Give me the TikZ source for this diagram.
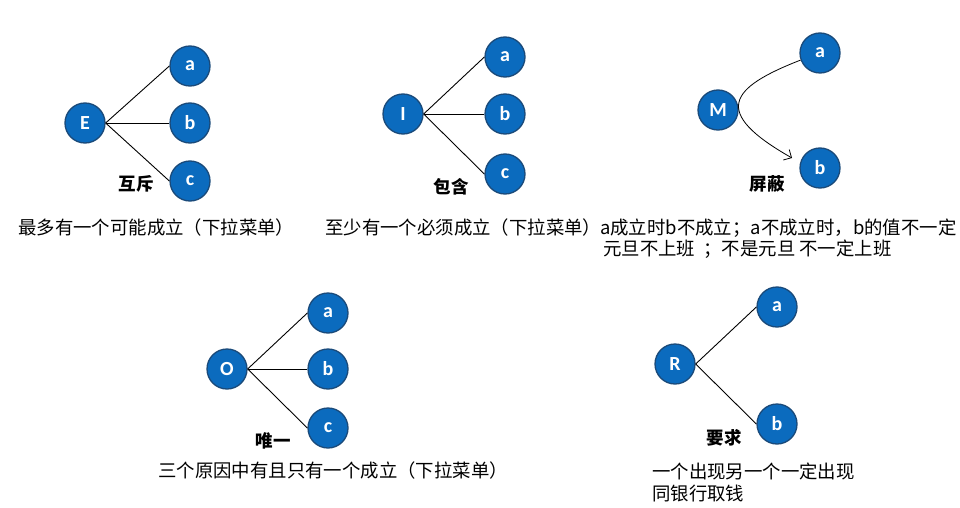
\documentclass[tikz,border=0pt]{standalone}
\usepackage{fontspec}
\setmainfont{Noto Sans CJK SC}
\newfontfamily\circfont{Carlito}
\usetikzlibrary{arrows.meta}
\definecolor{cfill}{HTML}{0B6BBE}
\definecolor{cdraw}{HTML}{1A4A7A}
\tikzset{
  ball/.style={circle, fill=cfill, draw=cdraw, line width=1.3pt, minimum size=40pt, inner sep=0pt,
    text=white, font=\circfont\bfseries\fontsize{20}{22}\selectfont},
  conn/.style={draw=black, line width=0.9pt},
  tag/.style={inner sep=0pt, font=\bfseries\fontsize{17.5}{20}\selectfont},
  captext/.style={inner sep=0pt, anchor=west, font=\fontsize{18.4}{22}\selectfont},
}
\begin{document}
\begin{tikzpicture}[x=1pt,y=-1pt]
\useasboundingbox (0,0) rectangle (960,508);
\fill[white] (0,0) rectangle (960,508);
% E group
\node[ball] (E) at (85,123) {E};
\node[ball] (Ea) at (190,66) {a};
\node[ball] (Eb) at (190,123) {b};
\node[ball] (Ec) at (190,181) {c};
\draw[conn] (E.east) -- (Ea.west);
\draw[conn] (E.east) -- (Eb.west);
\draw[conn] (E.east) -- (Ec.west);
\node[tag] (Et) at (136,184) {互斥};
\node[captext] (Ecap) at (18,228) {最多有一个可能成立（下拉菜单）};
% I group
\node[ball] (I) at (403,114) {I};
\node[ball] (Ia) at (505,57) {a};
\node[ball] (Ib) at (505,114) {b};
\node[ball] (Ic) at (505,174) {c};
\draw[conn] (I.east) -- (Ia.west);
\draw[conn] (I.east) -- (Ib.west);
\draw[conn] (I.east) -- (Ic.west);
\node[tag] (It) at (451,187) {包含};
\node[captext] (Icap) at (325,228) {至少有一个必须成立（下拉菜单）};
% M group
\node[ball] (M) at (718,110) {M};
\node[ball] (Ma) at (820,53) {a};
\node[ball] (Mb) at (820,168) {b};
\coordinate (Mtip) at (792,158);
\draw[conn, line width=0.8pt, -{Straight Barb[length=6pt,width=12pt]}] (Ma.200) .. controls (729,88) and (711,112) .. (Mtip);
\node[tag] (Mt) at (767,184) {屏蔽};
\node[captext] (Mcap1) at (600,228) {a成立时b不成立；a不成立时，b的值不一定};
\node[captext] (Mcap2) at (603,249) {元旦不上班\ \ ；不是元旦\ 不一定上班};
% O group
\node[ball] (O) at (227,369) {O};
\node[ball] (Oa) at (328,313) {a};
\node[ball] (Ob) at (328,369) {b};
\node[ball] (Oc) at (328,428) {c};
\draw[conn] (O.east) -- (Oa.west);
\draw[conn] (O.east) -- (Ob.west);
\draw[conn] (O.east) -- (Oc.west);
\node[tag] (Ot) at (273,441) {唯一};
\node[captext] (Ocap) at (158,471) {三个原因中有且只有一个成立（下拉菜单）};
% R group
\node[ball] (R) at (675,364) {R};
\node[ball] (Ra) at (777,307) {a};
\node[ball] (Rb) at (777,424) {b};
\draw[conn] (R.east) -- (Ra.west);
\draw[conn] (R.east) -- (Rb.west);
\node[tag] (Rt) at (724,438) {要求};
\node[captext] (Rcap1) at (652,471) {一个出现另一个一定出现};
\node[captext] (Rcap2) at (652,494) {同银行取钱};
\end{tikzpicture}
\end{document}
